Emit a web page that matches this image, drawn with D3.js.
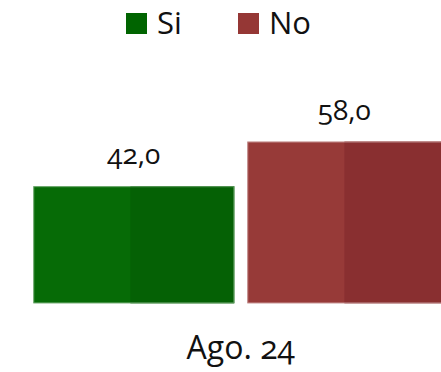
<!doctype html>
<html lang="es">
<head>
  <meta charset="utf-8">
  <title>Si / No - D3</title>
  <style>
    html, body { margin: 0; padding: 0; background: #fff; }
    svg { display: block; font-family: "Open Sans", sans-serif; font-variant-numeric: oldstyle-nums; }
  </style>
</head>
<body>
  <svg></svg>
  <script src="https://cdn.jsdelivr.net/npm/d3@7"></script>
  <script>
    const width = 441;
    const height = 372;

    // datos
    const categories = ['Ago. 24'];
    const seriesNames = ['Si', 'No'];
    const seriesValues = [42.0, 58.0];
    const colors = ['#006400', '#953735'];
    const lightColors = ['#066b06', '#973a38'];
    const darkColors = ['#056105', '#892f30'];

    const svg = d3.select('svg')
      .attr('width', width)
      .attr('height', height)
      .attr('viewBox', [0, 0, width, height]);

    const x = d3.scaleBand()
      .domain(seriesNames)
      .range([33.3, 448.3])
      .paddingInner(0.0607);

    const xCat = d3.scaleBand()
      .domain(categories)
      .range([33.3, 448.3]);

    const y = d3.scaleLinear()
      .domain([0, 100])
      .range([303.3, 24.5]);

    const fmt = v => d3.format('.1f')(v).replace('.', ',');

    // barras
    const bars = svg.append('g')
      .selectAll('g')
      .data(seriesNames)
      .join('g');

    const visRight = d => Math.min(x(d) + x.bandwidth(), width);
    const visCenter = d => (x(d) + visRight(d)) / 2;
    const split = d => x(d) + x.bandwidth() * 0.483;

    bars.append('rect')
      .attr('x', d => x(d))
      .attr('y', (d, i) => y(seriesValues[i]))
      .attr('width', d => x.bandwidth())
      .attr('height', (d, i) => y(0) - y(seriesValues[i]))
      .attr('fill', (d, i) => lightColors[i]);

    // mitad derecha mas oscura
    bars.append('rect')
      .attr('x', d => split(d))
      .attr('y', (d, i) => y(seriesValues[i]))
      .attr('width', d => x(d) + x.bandwidth() - split(d))
      .attr('height', (d, i) => y(0) - y(seriesValues[i]))
      .attr('fill', (d, i) => darkColors[i]);

    // borde claro
    bars.append('rect')
      .attr('x', d => x(d) + 0.5)
      .attr('y', (d, i) => y(seriesValues[i]) + 0.5)
      .attr('width', d => x.bandwidth() - 1)
      .attr('height', (d, i) => y(0) - y(seriesValues[i]) - 1)
      .attr('fill', 'none')
      .attr('stroke', '#fff')
      .attr('stroke-opacity', 0.35);

    // etiquetas de valores
    bars.append('text')
      .attr('x', d => visCenter(d))
      .attr('y', (d, i) => y(seriesValues[i]) - 22)
      .attr('text-anchor', 'middle')
      .attr('font-size', 28)
      .attr('fill', '#111')
      .text((d, i) => fmt(seriesValues[i]));

    // eje de categorias
    svg.append('g')
      .selectAll('text')
      .data(categories)
      .join('text')
      .attr('x', d => xCat(d) + xCat.bandwidth() / 2)
      .attr('y', 359.3)
      .attr('text-anchor', 'middle')
      .attr('font-size', 32)
      .attr('fill', '#111')
      .text(d => d);

    // leyenda
    const legendX = [126, 238];
    const legend = svg.append('g')
      .selectAll('g')
      .data(seriesNames)
      .join('g')
      .attr('transform', (d, i) => `translate(${legendX[i]},13)`);

    legend.append('rect')
      .attr('width', 21)
      .attr('height', 21)
      .attr('fill', (d, i) => colors[i]);

    legend.append('text')
      .attr('x', 31)
      .attr('y', 21)
      .attr('font-size', 31)
      .attr('fill', '#111')
      .text(d => d);
  </script>
</body>
</html>
